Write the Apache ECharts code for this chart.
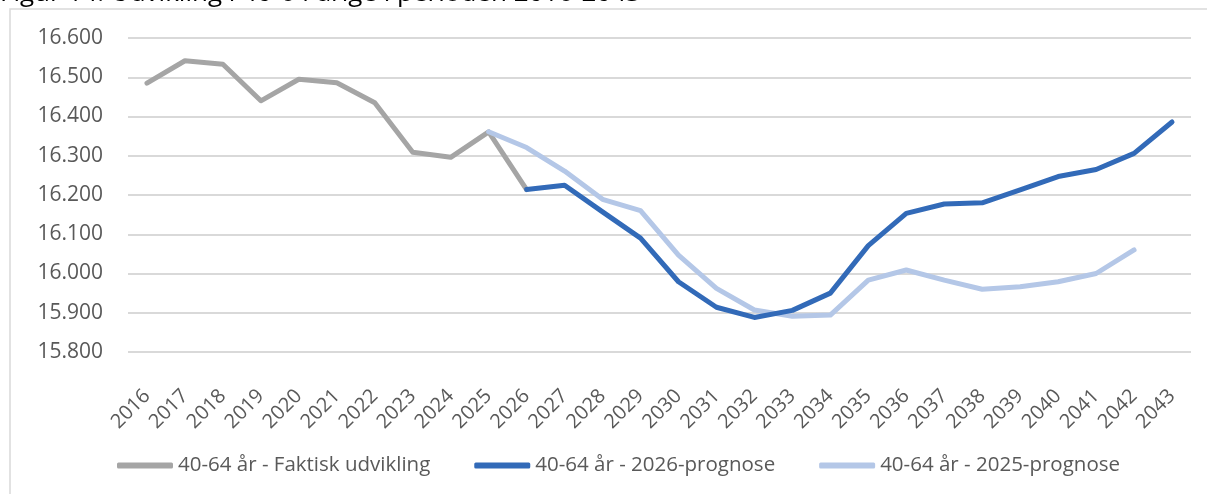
<!DOCTYPE html>
<html>
<head>
<meta charset="utf-8">
<script src="https://cdn.jsdelivr.net/npm/echarts@6/dist/echarts.min.js"></script>
<style>
html,body{margin:0;padding:0;background:#fff;}
#chart{width:1207px;height:494px;}
</style>
</head>
<body>
<div id="chart"></div>
<script>
var titleText = 'Figur 14: Udvikling i 40-64 årige i perioden 2016-2043';
var years = ['2016','2017','2018','2019','2020','2021','2022','2023','2024','2025','2026','2027','2028','2029','2030','2031','2032','2033','2034','2035','2036','2037','2038','2039','2040','2041','2042','2043'];
var seriesNames = ['40-64 år - Faktisk udvikling','40-64 år - 2026-prognose','40-64 år - 2025-prognose'];
// Faktisk udvikling 2016-2026
var faktisk = [16485,16542,16533,16440,16495,16486,16435,16309,16296,16361,16214,null,null,null,null,null,null,null,null,null,null,null,null,null,null,null,null,null];
// 2026-prognose 2026-2043
var prognose2026 = [null,null,null,null,null,null,null,null,null,null,16214,16225,16157,16090,15979,15914,15888,15906,15950,16071,16153,16177,16180,16213,16247,16265,16306,16386];
// 2025-prognose 2025-2042
var prognose2025 = [null,null,null,null,null,null,null,null,null,16361,16321,16261,16189,16160,16047,15962,15907,15891,15894,15983,16009,15983,15960,15966,15979,16000,16060,null];

var colors = ['#a5a5a5','#326ab8','#b4c7e7'];
var fontFam = '"Open Sans", "Liberation Sans", sans-serif';

function fmt(v){
  var s = Math.round(v).toString();
  return s.replace(/\B(?=(\d{3})+(?!\d))/g,'.');
}

var chart = echarts.init(document.getElementById('chart'), null, {renderer:'canvas'});
var datas = [faktisk, prognose2026, prognose2025];
var option = {
  animation:false,
  backgroundColor:'#ffffff',
  graphic:[
    {type:'rect', shape:{x:10,y:9,width:1400,height:700}, style:{fill:'none',stroke:'#d9d9d9',lineWidth:1.5}, silent:true, z:-1},
    {type:'text', x:0, y:-6, style:{text:titleText, font:'26px '+fontFam, fill:'#000000', textVerticalAlign:'middle'}}
  ],
  grid:{left:128,right:16,top:38,bottom:142,containLabel:false,outerBoundsMode:'none'},
  legend:{
    left:112, top:450,
    itemWidth:56, itemHeight:6, itemGap:44,
    icon:'roundRect',
    textStyle:{fontFamily:fontFam,fontSize:20.5,color:'#595959'},
    data:seriesNames
  },
  xAxis:{
    type:'category', data:years, boundaryGap:true,
    axisLine:{show:false}, axisTick:{show:false},
    axisLabel:{rotate:45, interval:0, margin:41, fontFamily:fontFam, fontSize:20, color:'#595959'}
  },
  yAxis:{
    type:'value', min:15800, max:16600, interval:100,
    axisLine:{show:false}, axisTick:{show:false},
    splitLine:{lineStyle:{color:'#d9d9d9',width:2}},
    axisLabel:{margin:25, fontFamily:fontFam, fontSize:21, color:'#595959', formatter:fmt}
  },
  series: seriesNames.map(function(n,i){
    return {
      name:n, type:'line', data:datas[i], showSymbol:false, symbol:'none',
      connectNulls:false, z: 10 + (i===1?2:(i===2?1:0)),
      lineStyle:{color:colors[i], width:5, join:'round', cap:'round'},
      itemStyle:{color:colors[i]}
    };
  })
};
chart.setOption(option);
</script>
</body>
</html>
